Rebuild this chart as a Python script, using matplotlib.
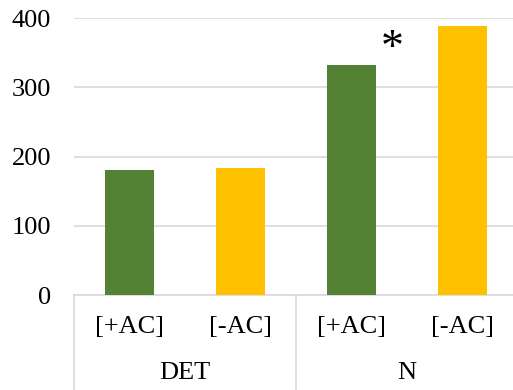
import matplotlib
matplotlib.use("Agg")
import matplotlib.pyplot as plt
import numpy as np

# Mean values per condition
groups = ["DET", "N"]
conditions = ["[+AC]", "[-AC]"]
values = [180, 183, 332, 389]
colors = ["#548235", "#FFC000", "#548235", "#FFC000"]
yticks = [0, 100, 200, 300, 400]

plt.rcParams['font.family'] = ['Liberation Serif', 'DejaVu Serif']

W, H = 513, 390
fig = plt.figure(figsize=(W / 100, H / 100), dpi=100)

# plot area in pixels: left 74, right 518, top 18.3, bottom 295
left, right, top, bottom = 74, 518, 18.3, 295
ax = fig.add_axes([left / W, 1 - bottom / H, (right - left) / W, (bottom - top) / H])

x = np.arange(len(values))
ax.bar(x, values, width=0.44, color=colors, zorder=3)

ax.set_xlim(-0.5, len(values) - 0.5)
ax.set_ylim(0, 400)
ax.set_yticks(yticks)
ax.set_yticklabels([str(t) for t in yticks], fontsize=19)
ax.tick_params(axis='y', length=0, pad=16.5)
ax.set_xticks([])

for s in ['top', 'right', 'left']:
    ax.spines[s].set_visible(False)
ax.spines['bottom'].set_color('#D9D9D9')
ax.spines['bottom'].set_linewidth(1.2)
ax.yaxis.grid(True, color='#D9D9D9', linewidth=1.2, zorder=0)
ax.set_axisbelow(True)

# significance marker
ax.text(2.37, 354, "*", fontsize=33, ha='center', va='center', color='black')

# two-level category axis
trans = ax.get_xaxis_transform()
for i in range(len(values)):
    ax.text(x[i], -0.1155, conditions[i % 2], transform=trans,
            ha='center', va='center', fontsize=19)
for g, name in enumerate(groups):
    ax.text(2 * g + 0.5, -0.2816, name, transform=trans,
            ha='center', va='center', fontsize=19)
for xs in [-0.5, 1.5, 3.5]:
    ax.plot([xs, xs], [0, -0.36], transform=trans, color='#D9D9D9',
            linewidth=1.2, clip_on=False)

fig.savefig("out.png", dpi=100)
